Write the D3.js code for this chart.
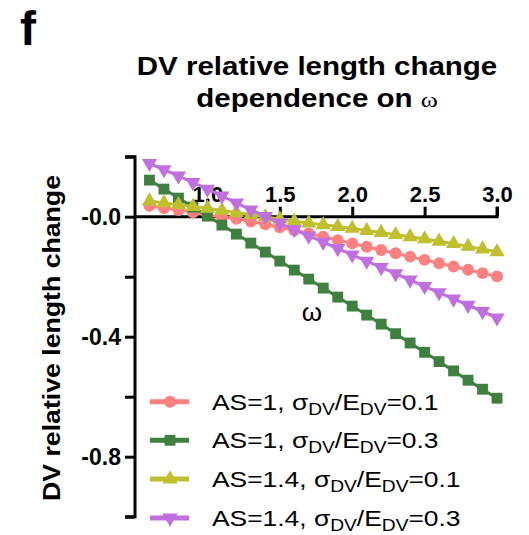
<!DOCTYPE html>
<html>
<head>
<meta charset="utf-8">
<script src="https://cdn.jsdelivr.net/npm/d3@7"></script>
<style>
  html, body { margin: 0; padding: 0; background: #fff; }
  svg { display: block; }
  text { font-family: Arial, "Liberation Sans", sans-serif; }
</style>
</head>
<body>
<script>
// ---------- data ----------
const omega = [0.6,0.7,0.8,0.9,1.0,1.1,1.2,1.3,1.4,1.5,1.6,1.7,1.8,1.9,2.0,2.1,2.2,2.3,2.4,2.5,2.6,2.7,2.8,2.9,3.0];

const as1s01 = [0.036,0.029,0.022,0.015,0.006,-0.001,-0.007,-0.016,-0.025,-0.035,-0.045,-0.056,-0.067,-0.078,-0.089,-0.100,-0.111,-0.122,-0.133,-0.144,-0.155,-0.166,-0.177,-0.188,-0.199];
const as1s03 = [0.122,0.092,0.062,0.032,0.002,-0.028,-0.058,-0.088,-0.118,-0.148,-0.178,-0.208,-0.238,-0.268,-0.298,-0.328,-0.358,-0.390,-0.421,-0.452,-0.483,-0.514,-0.545,-0.575,-0.605];
const as14s01 = [0.052,0.046,0.040,0.034,0.028,0.021,0.014,0.007,-0.001,-0.008,-0.015,-0.021,-0.027,-0.033,-0.039,-0.046,-0.053,-0.060,-0.067,-0.074,-0.082,-0.090,-0.099,-0.108,-0.117];
const as14s03 = [0.178,0.157,0.136,0.114,0.092,0.069,0.046,0.023,0.001,-0.021,-0.043,-0.064,-0.085,-0.106,-0.127,-0.148,-0.169,-0.190,-0.211,-0.232,-0.253,-0.274,-0.295,-0.316,-0.337];

const seriesNames = ["AS=1", "AS=1", "AS=1.4", "AS=1.4"];
const sigmaValues = ["0.1", "0.3", "0.1", "0.3"];
const seriesColors = ["#ff8080", "#3f7f3f", "#bfbf2f", "#bf6fdf"];
const seriesShapes = ["circle", "square", "triangleUp", "triangleDown"];
const seriesValues = [as1s01, as1s03, as14s01, as14s03];

const xTicks = [1.0, 1.5, 2.0, 2.5, 3.0];
const yTicks = [0.2, 0.0, -0.2, -0.4, -0.6, -0.8, -1.0];
const yLabelTicks = [0.0, -0.4, -0.8];

// ---------- layout ----------
const W = 529, H = 535;
const svg = d3.select("body").append("svg").attr("width", W).attr("height", H);

const x = d3.scaleLinear().domain([0.5, 3.0]).range([135, 497]);
const y = d3.scaleLinear().domain([-1.0, 0.2]).range([516.7, 156.7]);

// panel letter
svg.append("text").attr("x", 20).attr("y", 45)
  .attr("font-size", 48).attr("font-weight", "bold").text("f");

// title (horizontally stretched like the reference)
const tg = svg.append("g").attr("transform", "translate(317,0) scale(1.18,1)");
const title = tg.append("text").attr("text-anchor", "middle")
  .attr("font-size", 25).attr("font-weight", "bold");
title.append("tspan").attr("x", 0).attr("y", 75).text("DV relative length change");
title.append("tspan").attr("x", 0).attr("y", 107).text("dependence on ")
  .append("tspan").attr("font-family", "'Liberation Serif', 'Times New Roman', serif")
  .attr("font-weight", "normal").attr("font-size", 22).text("ω");

// y axis label
svg.append("text")
  .attr("transform", "translate(60,338) rotate(-90) scale(1.16,1)")
  .attr("text-anchor", "middle").attr("font-size", 23).attr("font-weight", "bold")
  .text("DV relative length change");

// y axis
const yAxis = d3.axisLeft(y).tickValues(yTicks).tickSize(10).tickPadding(4)
  .tickFormat(d => yLabelTicks.some(v => Math.abs(v - d) < 1e-9) ? (d === 0 ? "-0.0" : d.toFixed(1)) : "");
const gy = svg.append("g").attr("transform", `translate(${x(0.5)},0)`).call(yAxis);
gy.select(".domain").attr("stroke", "#000").attr("stroke-width", 3)
  .attr("d", `M-10,${y(0.2)}H0V${y(-1.0)}H-10`);
gy.selectAll(".tick line").attr("stroke", "#000").attr("stroke-width", 3);
gy.selectAll(".tick text").attr("font-size", 23).attr("font-weight", "bold")
  .attr("font-family", "Arial, 'Liberation Sans', sans-serif").attr("fill", "#000");

// x axis (at y=0, ticks upward)
const xAxis = d3.axisTop(x).tickValues(xTicks).tickSize(10).tickPadding(5)
  .tickFormat(d => d.toFixed(1));
const gx = svg.append("g").attr("transform", `translate(0,${y(0)})`).call(xAxis);
gx.select(".domain").attr("stroke", "#000").attr("stroke-width", 3)
  .attr("d", `M${x(0.5)},0H${x(3.0)}V-10`);
gx.selectAll(".tick line").attr("stroke", "#000").attr("stroke-width", 3);
gx.selectAll(".tick text").attr("font-size", 22).attr("font-weight", "bold")
  .attr("font-family", "Arial, 'Liberation Sans', sans-serif").attr("fill", "#000");

// x axis label ω
svg.append("text").attr("x", 312).attr("y", 321).attr("text-anchor", "middle")
  .attr("font-family", "'Liberation Serif', 'Times New Roman', serif")
  .attr("font-size", 26).text("ω");

// markers
function symbolFor(shape) {
  if (shape === "circle") return d3.symbol().type(d3.symbolCircle).size(112);
  if (shape === "square") return d3.symbol().type(d3.symbolSquare).size(118);
  return d3.symbol().type(d3.symbolTriangle).size(100);
}

const line = d3.line().x(d => x(d[0])).y(d => y(d[1]));

seriesValues.forEach((vals, i) => {
  const pts = omega.map((o, k) => [o, vals[k]]);
  svg.append("path").datum(pts).attr("d", line)
    .attr("fill", "none").attr("stroke", seriesColors[i]).attr("stroke-width", 3);
  const rot = seriesShapes[i] === "triangleDown" ? 180 : 0;
  svg.append("g").selectAll("path").data(pts).join("path")
    .attr("d", symbolFor(seriesShapes[i])())
    .attr("transform", d => `translate(${x(d[0])},${y(d[1])}) rotate(${rot})`)
    .attr("fill", seriesColors[i]);
});

// legend
const legendY = [401.7, 440.3, 479, 518];
seriesValues.forEach((vals, i) => {
  const g = svg.append("g").attr("transform", `translate(0,${legendY[i]})`);
  g.append("line").attr("x1", 150).attr("x2", 189).attr("y1", 0).attr("y2", 0)
    .attr("stroke", seriesColors[i]).attr("stroke-width", 5);
  const rot = seriesShapes[i] === "triangleDown" ? 180 : 0;
  g.append("path").attr("d", symbolFor(seriesShapes[i])())
    .attr("transform", `translate(170,0) rotate(${rot})`).attr("fill", seriesColors[i]);
  const t = g.append("text").attr("transform", "translate(212,8) scale(1.2,1)")
    .attr("font-size", 22).attr("fill", "#000");
  t.append("tspan").text(seriesNames[i] + ", σ");
  t.append("tspan").attr("font-size", 16).attr("dy", 5).text("DV");
  t.append("tspan").attr("dy", -5).text("/E");
  t.append("tspan").attr("font-size", 16).attr("dy", 5).text("DV");
  t.append("tspan").attr("dy", -5).text("=" + sigmaValues[i]);
});
</script>
</body>
</html>
